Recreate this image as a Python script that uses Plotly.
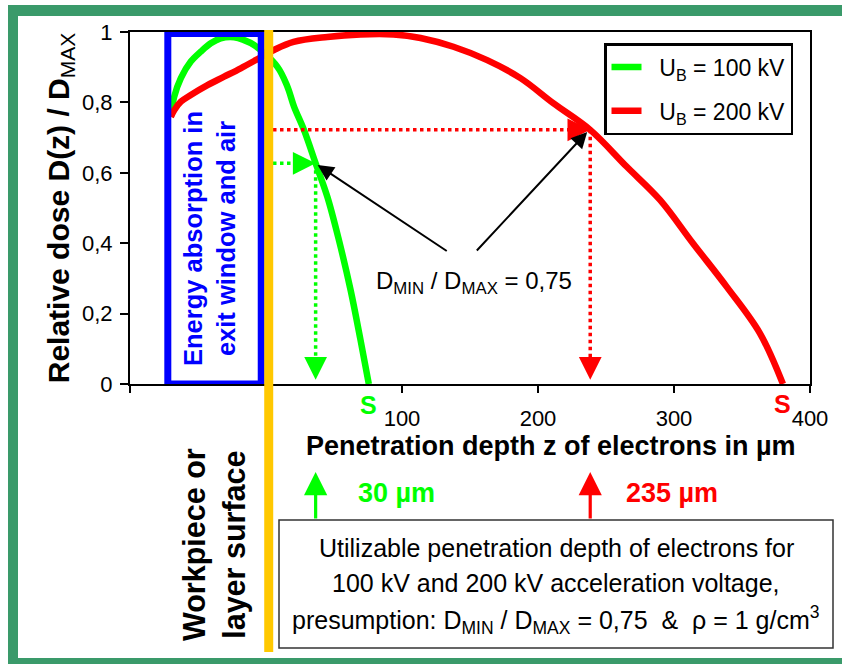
import plotly.graph_objects as go

# ---------------- data ----------------
green_z = [-70, -67.5, -62.6, -55.3, -48.0, -40.6, -33.3, -23.5, -16.2, -8.8,
           8.4, 15.7, 20.6, 27.9, 36.5, 45.1, 53.6, 62.2, 69.5, 75.6]
green_d = [0.759, 0.816, 0.869, 0.916, 0.944, 0.968, 0.982, 0.985, 0.977, 0.963,
           0.901, 0.845, 0.788, 0.722, 0.627, 0.532, 0.409, 0.267, 0.125, 0.0]

red_z = [-70, -67.5, -62.6, -55.3, -43.0, -30.8, -18.6, -7.6, 5.9, 20.3, 45.1,
         69.5, 93.8, 113.6, 137.8, 162.6, 187.1, 211.2, 238.4, 265.3, 289.7,
         313.9, 338.8, 363.2, 380.1]
red_d = [0.759, 0.778, 0.802, 0.821, 0.849, 0.873, 0.897, 0.920, 0.949, 0.972, 0.986,
         0.993, 0.993, 0.983, 0.958, 0.920, 0.869, 0.798, 0.722, 0.617, 0.523,
         0.400, 0.276, 0.144, 0.0]

series_names = ["\u00a0\u00a0U<sub>B</sub> = 100 kV", "\u00a0\u00a0U<sub>B</sub> = 200 kV"]
green_cut = (36.5, 0.627)     # D/Dmax = 0.75 point, 100 kV
red_cut = (238.4, 0.722)      # D/Dmax = 0.75 point, 200 kV
depth_labels = ["30 µm", "235 µm"]
ratio_label = "D<sub>MIN</sub> / D<sub>MAX</sub> = 0,75"

x_tickvals = [-100, 0, 100, 200, 300, 400]
x_ticktext = ["", "", "100", "200", "300", "400"]
y_tickvals = [0, 0.2, 0.4, 0.6, 0.8, 1.0]
y_ticktext = ["0", "0,2", "0,4", "0,6", "0,8", "1"]

GREEN = "#00FF00"
RED = "#FF0000"
BLUE = "#0000FF"
ORANGE = "#FFC800"
FRAME = "#3A9A6A"
FONT = "Liberation Sans, Arial, sans-serif"

W, H = 842, 664
L, R, T, B = 130, 810, 32, 384


def px_x(p):
    return (p - L) / (R - L)


def px_y(p):
    return (B - p) / (B - T)


def txt(x, y, text, size, color="black", xref="paper", yref="paper", angle=0):
    return dict(x=x, y=y, xref=xref, yref=yref, text=text, showarrow=False,
                xanchor="center", yanchor="middle", textangle=angle,
                font=dict(size=size, color=color))


fig = go.Figure()

fig.add_trace(go.Scatter(x=green_z, y=green_d, mode="lines", name=series_names[0],
                         line=dict(color=GREEN, width=6.5, shape="spline"),
                         legendgroup="g1"))
fig.add_trace(go.Scatter(x=red_z, y=red_d, mode="lines", name=series_names[1],
                         line=dict(color=RED, width=6.5, shape="spline"),
                         legendgroup="g2"))

# dotted guide lines
for (cz, cd), col in [(green_cut, GREEN), (red_cut, RED)]:
    fig.add_trace(go.Scatter(x=[0, cz - 4], y=[cd, cd], mode="lines", showlegend=False,
                             hoverinfo="skip", line=dict(color=col, width=3.5, dash="dot")))
    fig.add_trace(go.Scatter(x=[cz, cz], y=[cd, 0.06], mode="lines", showlegend=False,
                             hoverinfo="skip", line=dict(color=col, width=3.5, dash="dot")))

annotations = []
# arrow heads of dotted guides
for (cz, cd), col in [(green_cut, GREEN), (red_cut, RED)]:
    annotations.append(dict(x=cz, y=cd, xref="x", yref="y", ax=-22, ay=0, text="",
                            showarrow=True, arrowhead=2, arrowsize=1.3, arrowwidth=3.5,
                            arrowcolor=col, standoff=0))
    annotations.append(dict(x=cz, y=0.012, xref="x", yref="y", ax=0, ay=-22, text="",
                            showarrow=True, arrowhead=2, arrowsize=1.3, arrowwidth=3.5,
                            arrowcolor=col, standoff=0))
    # upward arrows below the axis
    annotations.append(dict(x=cz, y=px_y(472), xref="x", yref="paper", ax=0, ay=48, text="",
                            showarrow=True, arrowhead=2, arrowsize=1.45, arrowwidth=3.2,
                            arrowcolor=col, standoff=0))

# black arrows to the 0.75 points
annotations.append(dict(x=38, y=0.622, xref="x", yref="y", ax=134, ay=0.375,
                        axref="x", ayref="y", text="", showarrow=True, arrowhead=2,
                        arrowsize=1.6, arrowwidth=2, arrowcolor="black", standoff=0))
annotations.append(dict(x=236.2, y=0.716, xref="x", yref="y", ax=154, ay=0.375,
                        axref="x", ayref="y", text="", showarrow=True, arrowhead=2,
                        arrowsize=1.6, arrowwidth=2, arrowcolor="black", standoff=0))

annotations.append(txt(153, 0.287, ratio_label, 24, xref="x", yref="y"))

# S labels at the end of the curves
annotations.append(txt(green_z[-1], px_y(405), "<b>S</b>", 25, GREEN, xref="x"))
annotations.append(txt(red_z[-1], px_y(404), "<b>S</b>", 25, RED, xref="x"))

# x axis title
annotations.append(txt(px_x(551), px_y(446), "<b>Penetration depth z of electrons in µm</b>", 27))

# depth labels
annotations.append(txt(px_x(396), px_y(493), "<b>" + depth_labels[0] + "</b>", 27, GREEN))
annotations.append(txt(px_x(672), px_y(493), "<b>" + depth_labels[1] + "</b>", 27, RED))

# rotated texts
annotations.append(txt(px_x(209), px_y(239), "<b>Energy absorption in<br>exit window and air</b>",
                       25.5, BLUE, angle=-90))
annotations.append(txt(px_x(214), px_y(545), "<b>Workpiece or<br>layer surface</b>",
                       30.5, "black", angle=-90))

# bottom info box text
box_lines = ["Utilizable penetration depth of electrons for",
             "100 kV and 200 kV acceleration voltage,",
             "presumption: D<sub>MIN</sub> / D<sub>MAX</sub> = 0,75\u00a0 &\u00a0 ρ = 1 g/cm<sup>3</sup>"]
for line, py in zip(box_lines, [548, 583, 620]):
    annotations.append(txt(px_x(556), px_y(py), line, 25))

shapes = [
    # green frame (left, top, bottom; the right side lies outside the picture)
    dict(type="rect", xref="paper", yref="paper", x0=px_x(8), x1=px_x(18), y0=px_y(664), y1=px_y(5),
         fillcolor=FRAME, line=dict(width=0), layer="above"),
    dict(type="rect", xref="paper", yref="paper", x0=px_x(8), x1=px_x(842), y0=px_y(16), y1=px_y(5),
         fillcolor=FRAME, line=dict(width=0), layer="above"),
    dict(type="rect", xref="paper", yref="paper", x0=px_x(8), x1=px_x(842), y0=px_y(664), y1=px_y(658),
         fillcolor=FRAME, line=dict(width=0), layer="above"),
    # info box
    dict(type="rect", xref="paper", yref="paper", x0=px_x(279), x1=px_x(833), y0=px_y(648), y1=px_y(520),
         fillcolor="white", line=dict(color="#333333", width=1.5), layer="below"),
    # energy absorption box
    dict(type="rect", xref="x", yref="y", x0=-72.2, x1=-3.5, y0=0.0, y1=0.996,
         line=dict(color=BLUE, width=7), layer="above"),
    # workpiece surface line
    dict(type="line", xref="x", yref="paper", x0=2, x1=2, y0=px_y(652), y1=px_y(30),
         line=dict(color=ORANGE, width=9), layer="above"),
]

fig.update_layout(
    width=W, height=H,
    margin=dict(l=L, r=W - R, t=T, b=H - B),
    paper_bgcolor="white", plot_bgcolor="white",
    font=dict(family=FONT, color="black"),
    showlegend=True,
    legend=dict(x=px_x(604), y=px_y(43), xanchor="left", yanchor="top",
                bordercolor="black", borderwidth=2.5, bgcolor="white",
                font=dict(size=23), tracegroupgap=11),
    annotations=annotations,
    shapes=shapes,
    xaxis=dict(range=[-100, 400], tickvals=x_tickvals, ticktext=x_ticktext,
               showgrid=False, zeroline=False, showline=True, mirror=True,
               linecolor="black", linewidth=2, ticks="outside", ticklen=7,
               tickwidth=2, tickcolor="black", tickfont=dict(size=22),
               ticklabelstandoff=7),
    yaxis=dict(range=[0, 1], tickvals=y_tickvals, ticktext=y_ticktext,
               showgrid=False, zeroline=False, showline=True, mirror=True,
               linecolor="black", linewidth=2, ticks="outside", ticklen=8,
               tickwidth=2, tickcolor="black", tickfont=dict(size=22),
               ticklabelstandoff=3,
               title=dict(text="<b>Relative dose D(z) / D<sub><span style='font-weight:normal'>MAX</span></sub></b>",
                          font=dict(size=30), standoff=4)),
)

fig.write_html("out.html", config={"displayModeBar": False},
               post_script="document.body.style.margin='0px';")
